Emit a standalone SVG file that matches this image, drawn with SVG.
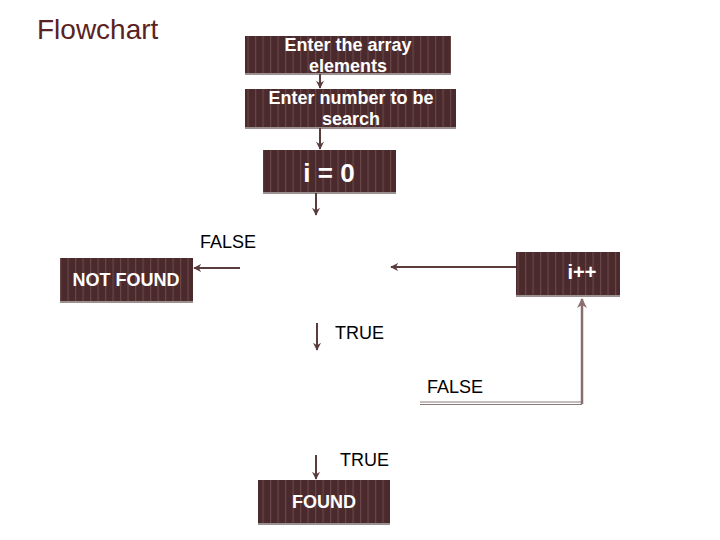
<svg xmlns="http://www.w3.org/2000/svg" width="720" height="540" viewBox="0 0 720 540">
<defs>
<pattern id="stripes" patternUnits="userSpaceOnUse" width="7.5" height="10">
<rect width="7.5" height="10" fill="#4a2a2c"/>
<rect x="0" width="1.2" height="10" fill="#694749"/>
</pattern>
<marker id="ah" viewBox="0 0 10 10" refX="9" refY="5" markerWidth="4" markerHeight="4" orient="auto" markerUnits="strokeWidth">
<path d="M0,0 L10,5 L0,10 L3,5 Z" fill="#5a3c3c"/>
</marker>
<marker id="ahl" viewBox="0 0 10 10" refX="9" refY="5" markerWidth="4" markerHeight="4" orient="auto" markerUnits="strokeWidth">
<path d="M0,0 L10,5 L0,10 L3,5 Z" fill="#8a6e6e"/>
</marker>
</defs>
<style>
.box{fill:url(#stripes);}
.edge{stroke:#9a9090;stroke-width:2;}
.bt{fill:#ffffff;font-family:"Liberation Sans",Arial,sans-serif;font-weight:bold;font-size:18px;text-anchor:middle;}
.lbl{fill:#000000;font-family:"Liberation Sans",Arial,sans-serif;font-size:18px;}
.c{stroke:#5a3c3c;stroke-width:2;fill:none;}
.cl{stroke:#8a6e6e;stroke-width:2.5;fill:none;}
</style>
<rect width="720" height="540" fill="#ffffff"/>
<text x="37" y="39" font-family="Liberation Sans,Arial,sans-serif" font-size="28" fill="#5a2222">Flowchart</text>

<g id="n1">
<rect class="box" x="245" y="36" width="206" height="38"/>
<line class="edge" x1="245" y1="74" x2="451" y2="74"/>
<text class="bt" x="348" y="51">Enter the array</text>
<text class="bt" x="348" y="72">elements</text>
</g>
<g id="n2">
<rect class="box" x="245" y="89" width="211" height="39"/>
<line class="edge" x1="245" y1="128" x2="456" y2="128"/>
<text class="bt" x="351" y="104">Enter number to be</text>
<text class="bt" x="351" y="125">search</text>
</g>
<g id="n3">
<rect class="box" x="263" y="150" width="133" height="43"/>
<line class="edge" x1="263" y1="193" x2="396" y2="193"/>
<text class="bt" x="329" y="182" style="font-size:26px">i = 0</text>
</g>
<g id="n4">
<rect class="box" x="60" y="258" width="133" height="44"/>
<line class="edge" x1="60" y1="302" x2="193" y2="302"/>
<text class="bt" x="126" y="286">NOT FOUND</text>
</g>
<g id="n5">
<rect class="box" x="516" y="252" width="104" height="44"/>
<line class="edge" x1="516" y1="296" x2="620" y2="296"/>
<text class="bt" x="582" y="279" style="font-size:20px">i++</text>
</g>
<g id="n6">
<rect class="box" x="258" y="480" width="132" height="44"/>
<line class="edge" x1="258" y1="524" x2="390" y2="524"/>
<text class="bt" x="324" y="508">FOUND</text>
</g>

<g id="connectors">
<line class="c" x1="320" y1="74" x2="320" y2="88" marker-end="url(#ah)"/>
<line class="c" x1="320" y1="128" x2="320" y2="149" marker-end="url(#ah)"/>
<line class="c" x1="316" y1="193" x2="316" y2="215" marker-end="url(#ah)"/>
<line class="c" x1="240" y1="268" x2="194" y2="268" marker-end="url(#ah)"/>
<line class="c" x1="516" y1="267" x2="391" y2="267" marker-end="url(#ah)"/>
<line class="c" x1="317" y1="323" x2="317" y2="350" marker-end="url(#ah)"/>
<line class="c" x1="316" y1="455" x2="316" y2="479" marker-end="url(#ah)"/>
<line x1="420" y1="402" x2="582" y2="402" stroke="#8a7a7a" stroke-width="1"/>
<line x1="420" y1="404.5" x2="582" y2="404.5" stroke="#8a7a7a" stroke-width="1"/>
<line class="cl" x1="582" y1="404" x2="582" y2="299" marker-end="url(#ahl)"/>
</g>

<text class="lbl" x="200" y="248">FALSE</text>
<text class="lbl" x="335" y="339">TRUE</text>
<text class="lbl" x="427" y="393">FALSE</text>
<text class="lbl" x="340" y="466">TRUE</text>
</svg>
